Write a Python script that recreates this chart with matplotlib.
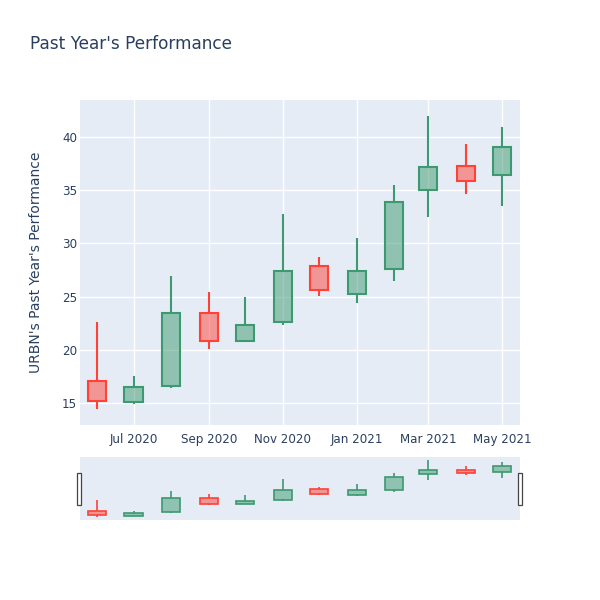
import matplotlib
matplotlib.use("Agg")
import matplotlib.pyplot as plt
import matplotlib.dates as mdates
from matplotlib.patches import Rectangle
import numpy as np

dates = ["2020-06-01", "2020-07-01", "2020-08-01", "2020-09-01", "2020-10-01", "2020-11-01",
         "2020-12-01", "2021-01-01", "2021-02-01", "2021-03-01", "2021-04-01", "2021-05-01"]
opens = [17.1, 15.1, 16.6, 23.5, 20.85, 22.6, 27.9, 25.25, 27.6, 35.0, 37.3, 36.4]
highs = [22.6, 17.5, 26.9, 25.4, 25.0, 32.8, 28.7, 30.5, 35.5, 42.0, 39.3, 40.9]
lows = [14.4, 14.9, 16.4, 20.05, 20.7, 22.3, 25.1, 24.4, 26.45, 32.5, 34.6, 33.5]
closes = [15.2, 16.5, 23.5, 20.8, 22.3, 27.4, 25.6, 27.4, 33.9, 37.2, 35.9, 39.1]
tick_dates = ["2020-07-01", "2020-09-01", "2020-11-01", "2021-01-01", "2021-03-01", "2021-05-01"]
tick_labels = ["Jul 2020", "Sep 2020", "Nov 2020", "Jan 2021", "Mar 2021", "May 2021"]
yticks = [15, 20, 25, 30, 35, 40]

INC = "#3D9970"
DEC = "#FF4136"
BG = "#e5ecf6"
TXT = "#2a3f5f"

x = mdates.datestr2num(dates)
xt = mdates.datestr2num(tick_dates)

fig = plt.figure(figsize=(6, 6), dpi=100)
ax = fig.add_axes([80/600, 175/600, 440/600, 325/600])
axs = fig.add_axes([80/600, 80/600, 440/600, 63/600])

xlim = (x[0] - 14.2, x[-1] + 14.8)
ylim = (12.93, 43.48)


def draw(a, lw):
    for xi, o, h, l, c in zip(x, opens, highs, lows, closes):
        col = INC if c >= o else DEC
        lo, hi = min(o, c), max(o, c)
        a.plot([xi, xi], [l, lo], color=col, lw=lw, solid_capstyle="butt", zorder=3)
        a.plot([xi, xi], [hi, h], color=col, lw=lw, solid_capstyle="butt", zorder=3)
        a.bar(xi, hi - lo, bottom=lo, width=15, facecolor=col, alpha=0.5, edgecolor="none", zorder=3)
        a.bar(xi, hi - lo, bottom=lo, width=15, facecolor="none", edgecolor=col, linewidth=lw, zorder=4)


draw(ax, 1.5)
ax.set_facecolor(BG)
ax.set_xlim(*xlim)
ax.set_ylim(*ylim)
ax.set_xticks(xt)
ax.set_xticklabels(tick_labels)
ax.set_yticks(yticks)
ax.grid(True, color="white", linewidth=1.0)
ax.set_axisbelow(True)
for s in ax.spines.values():
    s.set_visible(False)
ax.tick_params(length=0, colors=TXT, labelsize=8.6, pad=6)
ax.tick_params(axis="y", pad=2)
ax.set_ylabel("URBN's Past Year's Performance", color=TXT, fontsize=10, labelpad=14)

draw(axs, 1.2)
axs.set_facecolor(BG)
axs.set_xlim(*xlim)
axs.set_ylim(*ylim)
axs.set_xticks([])
axs.set_yticks([])
for s in axs.spines.values():
    s.set_visible(False)

for hx in (77/600, 518/600):
    fig.patches.append(Rectangle((hx, (600-505)/600), 4/600, 32/600, transform=fig.transFigure,
                                 facecolor="white", edgecolor="#444444", linewidth=0.9))

fig.text(30/600, 1 - 44/600, "Past Year's Performance", color=TXT, fontsize=12.2, va="center", ha="left")

fig.savefig("out.png", dpi=100, facecolor="white")
